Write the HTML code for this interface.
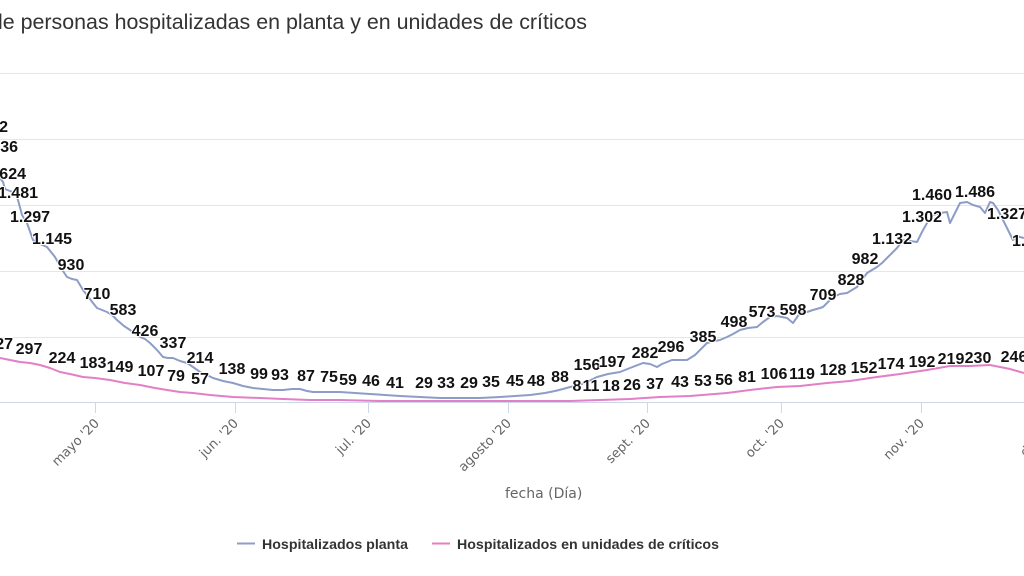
<!DOCTYPE html>
<html><head><meta charset="utf-8">
<style>
html,body{margin:0;padding:0;background:#fff;}
svg{display:block;}
.dl{font-family:"Liberation Sans",sans-serif;font-weight:bold;font-size:16px;fill:#111;stroke:#fff;stroke-width:2px;stroke-linejoin:round;paint-order:stroke;}
.ax{font-family:"DejaVu Sans","Liberation Sans",sans-serif;font-size:13px;fill:#666;}
</style></head>
<body>
<svg width="1024" height="576" viewBox="0 0 1024 576" xmlns="http://www.w3.org/2000/svg">
<rect width="1024" height="576" fill="#fff"/>
<text x="-2" y="29" font-family="'Liberation Sans',sans-serif" font-size="21" fill="#333" textLength="589" lengthAdjust="spacingAndGlyphs">le personas hospitalizadas en planta y en unidades de críticos</text>
<!-- gridlines -->
<g stroke="#e6e6e6" stroke-width="1">
<line x1="0" y1="73.5" x2="1024" y2="73.5"/>
<line x1="0" y1="139.5" x2="1024" y2="139.5"/>
<line x1="0" y1="205.5" x2="1024" y2="205.5"/>
<line x1="0" y1="271.5" x2="1024" y2="271.5"/>
<line x1="0" y1="337.5" x2="1024" y2="337.5"/>
</g>
<line x1="0" y1="402.5" x2="1024" y2="402.5" stroke="#ccd6eb" stroke-width="1"/>
<g stroke="#ccd6eb" stroke-width="1">
<line x1="95.5" y1="402" x2="95.5" y2="413"/>
<line x1="235.5" y1="402" x2="235.5" y2="413"/>
<line x1="368.5" y1="402" x2="368.5" y2="413"/>
<line x1="508.5" y1="402" x2="508.5" y2="413"/>
<line x1="647.5" y1="402" x2="647.5" y2="413"/>
<line x1="781.5" y1="402" x2="781.5" y2="413"/>
<line x1="921.5" y1="402" x2="921.5" y2="413"/>
</g>
<!-- x labels -->
<g class="ax" text-anchor="end">
<text transform="translate(100,424) rotate(-45)">mayo '20</text>
<text transform="translate(239,424) rotate(-45)">jun. '20</text>
<text transform="translate(372,424) rotate(-45)">jul. '20</text>
<text transform="translate(512,424) rotate(-45)">agosto '20</text>
<text transform="translate(651,424) rotate(-45)">sept. '20</text>
<text transform="translate(785,424) rotate(-45)">oct. '20</text>
<text transform="translate(925,424) rotate(-45)">nov. '20</text>
<text transform="translate(1059,424) rotate(-45)">dic. '20</text>
</g>
<text x="505" y="498" font-family="'DejaVu Sans',sans-serif" font-size="14" fill="#666">fecha (Día)</text>
<!-- series -->
<polyline fill="none" stroke="#e37fc6" stroke-width="2" stroke-linejoin="round" points="0,358 10,360 20,362 30,363 40,365 50,368 60,372 70,374 83,377 95,378 110,380 125,383 140,385 155,388 167,390 180,392 193,393 210,395 233,397 260,398 283,399 310,400 340,400 380,401 420,401 460,401 500,401 540,401 570,401 600,400 630,399 660,397 690,396 727,393 750,390 777,387 800,386 827,383 850,381 877,377 900,374 927,370 950,366 970,366 990,365 1010,369 1017,371 1024,373"/>
<polyline fill="none" stroke="#8d9dc8" stroke-width="2" stroke-linejoin="round" points="0,178 3,182 5,189 15,193 18,200 22,215 27,223 33,240 40,244 47,247 55,257 61,268 67,277 72,279 77,280 83,290 93,303 97,308 107,312 112,315 117,320 124,326 130,330 140,337 145,339 150,343 157,350 163,357 168,358 173,358 180,361 187,363 193,367 200,372 207,375 213,378 223,381 233,383 243,386 253,388 263,389 273,390 283,390 292,389 300,389 307,391 313,392 325,392 340,392 355,393 370,394 385,395 400,396 420,397 440,398 460,398 480,398 500,397 515,396 530,395 545,393 555,391 563,389 570,387 575,386 585,383 597,377 608,374 620,372 630,368 643,363 650,364 657,367 662,364 667,362 672,360 680,360 687,360 695,355 700,350 707,343 715,341 720,340 727,337 733,334 740,330 748,328 757,327 763,322 770,317 777,316 787,318 793,323 800,313 807,312 813,310 820,308 823,307 828,302 833,297 840,294 847,293 852,290 857,287 862,280 867,273 872,270 877,267 882,263 887,258 892,253 897,248 903,240 910,241 917,242 922,232 927,223 933,215 940,213 947,212 950,223 955,213 960,203 967,202 973,205 980,207 985,213 990,202 993,203 998,210 1003,220 1008,230 1013,240 1017,236 1020,237 1024,238"/>
<g transform="translate(0,1)">
<!-- data labels planta -->
<g class="dl" text-anchor="end">
<text x="8" y="131">1.942</text>
<text x="18" y="151">1.736</text>
<text x="26" y="178">1.624</text>
<text x="38" y="197">1.481</text>
</g>
<g class="dl" text-anchor="middle">
<text x="30" y="221">1.297</text>
<text x="52" y="243">1.145</text>
<text x="71" y="269">930</text>
<text x="97" y="298">710</text>
<text x="123" y="314">583</text>
<text x="145" y="335">426</text>
<text x="173" y="347">337</text>
<text x="200" y="362">214</text>
<text x="232" y="373">138</text>
<text x="259" y="378">99</text>
<text x="280" y="379">93</text>
<text x="306" y="380">87</text>
<text x="329" y="381">75</text>
<text x="348" y="384">59</text>
<text x="371" y="385">46</text>
<text x="395" y="387">41</text>
<text x="424" y="387">29</text>
<text x="446" y="387">33</text>
<text x="469" y="387">29</text>
<text x="491" y="386">35</text>
<text x="515" y="385">45</text>
<text x="536" y="385">48</text>
<text x="560" y="381">88</text>
<text x="587" y="369">156</text>
<text x="612" y="366">197</text>
<text x="645" y="357">282</text>
<text x="671" y="351">296</text>
<text x="703" y="341">385</text>
<text x="734" y="326">498</text>
<text x="762" y="316">573</text>
<text x="793" y="314">598</text>
<text x="823" y="299">709</text>
<text x="851" y="284">828</text>
<text x="865" y="263">982</text>
<text x="892" y="243">1.132</text>
<text x="922" y="221">1.302</text>
<text x="932" y="199">1.460</text>
<text x="975" y="196">1.486</text>
<text x="1007" y="218">1.327</text>
</g>
<text class="dl" x="1012" y="245">1.186</text>
<!-- data labels criticos -->
<text class="dl" x="13" y="348" text-anchor="end">327</text>
<g class="dl" text-anchor="middle">
<text x="29" y="353">297</text>
<text x="62" y="362">224</text>
<text x="93" y="367">183</text>
<text x="120" y="371">149</text>
<text x="151" y="375">107</text>
<text x="176" y="380">79</text>
<text x="200" y="383">57</text>
<text x="577" y="390">8</text>
<text x="591" y="390">11</text>
<text x="611" y="390">18</text>
<text x="632" y="389">26</text>
<text x="655" y="388">37</text>
<text x="680" y="386">43</text>
<text x="703" y="385">53</text>
<text x="724" y="384">56</text>
<text x="747" y="381">81</text>
<text x="774" y="378">106</text>
<text x="802" y="378">119</text>
<text x="833" y="374">128</text>
<text x="864" y="372">152</text>
<text x="891" y="368">174</text>
<text x="922" y="366">192</text>
<text x="951" y="363">219</text>
<text x="978" y="362">230</text>
<text x="1014" y="361">246</text>
</g>
</g>
<!-- legend -->
<line x1="237" y1="543.5" x2="255" y2="543.5" stroke="#8d9dc8" stroke-width="2"/>
<text x="262" y="549" font-family="'Liberation Sans',sans-serif" font-weight="bold" font-size="14" fill="#333" textLength="146" lengthAdjust="spacingAndGlyphs">Hospitalizados planta</text>
<line x1="432" y1="543.5" x2="450" y2="543.5" stroke="#e37fc6" stroke-width="2"/>
<text x="457" y="549" font-family="'Liberation Sans',sans-serif" font-weight="bold" font-size="14" fill="#333" textLength="262" lengthAdjust="spacingAndGlyphs">Hospitalizados en unidades de críticos</text>
</svg>
</body></html>
